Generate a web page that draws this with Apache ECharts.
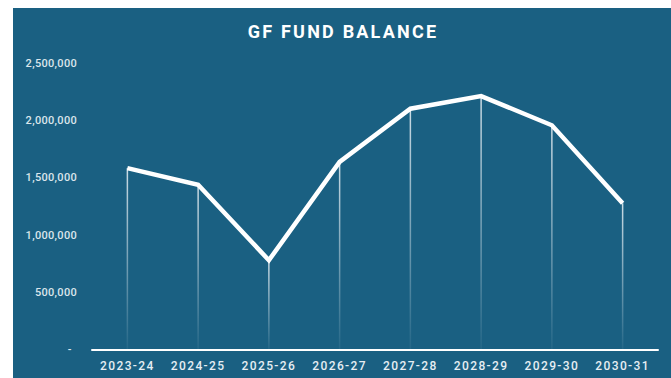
<!DOCTYPE html>
<html>
<head>
<meta charset="utf-8">
<script src="https://cdn.jsdelivr.net/npm/echarts@6/dist/echarts.min.js"></script>
<style>
  html, body { margin: 0; padding: 0; background: #ffffff; }
  #chart { width: 671px; height: 378px; }
</style>
</head>
<body>
<div id="chart"></div>
<script>
// Fiscal years and General Fund balance at year end
const years = ['2023-24', '2024-25', '2025-26', '2026-27', '2027-28', '2028-29', '2029-30', '2030-31'];
const balance = [1585000, 1440000, 780000, 1640000, 2105000, 2215000, 1960000, 1278000];
const yTicks = [0, 500000, 1000000, 1500000, 2000000, 2500000];

const panelColor = '#1a6082';

const chart = echarts.init(document.getElementById('chart'), null, { renderer: 'svg' });

chart.setOption({
  animation: false,
  backgroundColor: '#ffffff',
  graphic: [{
    type: 'rect',
    z: -10,
    silent: true,
    shape: { x: 13, y: 8, width: 658, height: 370 },
    style: { fill: panelColor }
  }],
  title: {
    text: 'GF FUND BALANCE',
    left: 338,
    top: 17,
    textAlign: 'center',
    textStyle: {
      color: '#ffffff',
      fontFamily: 'Roboto',
      fontWeight: 'bold',
      fontSize: 18
    }
  },
  grid: { left: 92, right: 13, top: 63.5, bottom: 28.5 },
  xAxis: {
    type: 'category',
    data: years,
    boundaryGap: true,
    axisLine: { lineStyle: { color: '#ffffff', width: 2 } },
    axisTick: { show: false },
    axisLabel: {
      color: '#e6eef3',
      fontFamily: 'Roboto',
      fontWeight: 500,
      fontSize: 12,
      margin: 10
    },
    splitLine: { show: false }
  },
  yAxis: {
    type: 'value',
    min: yTicks[0],
    max: yTicks[yTicks.length - 1],
    interval: yTicks[1] - yTicks[0],
    axisLine: { show: false },
    axisTick: { show: false },
    splitLine: { show: false },
    axisLabel: {
      color: '#dbe6ec',
      fontFamily: 'Roboto',
      fontWeight: 500,
      fontSize: 11,
      margin: 15,
      formatter: function (v) {
        return v === 0 ? '-  ' : v.toLocaleString('en-US');
      }
    }
  },
  series: [
    {
      // thin drop lines from each point to the baseline
      type: 'bar',
      data: balance,
      barWidth: 1.5,
      silent: true,
      z: 1,
      itemStyle: {
        color: new echarts.graphic.LinearGradient(0, 0, 0, 1, [
          { offset: 0, color: 'rgba(235,242,246,0.85)' },
          { offset: 1, color: 'rgba(235,242,246,0.05)' }
        ])
      }
    },
    {
      type: 'line',
      data: balance,
      symbol: 'none',
      z: 3,
      lineStyle: { color: '#ffffff', width: 4.5, join: 'miter' }
    }
  ]
});

// letter spacing on the title, year labels and amounts
function spaceText() {
  document.querySelectorAll('#chart text').forEach(function (t) {
    const s = t.textContent;
    if (s === 'GF FUND BALANCE') t.style.letterSpacing = '2.2px';
    else if (/^\d{4}-\d{2}$/.test(s)) t.style.letterSpacing = '1.4px';
    else if (/^[\d,]+$/.test(s)) t.style.letterSpacing = '0.3px';
  });
}
chart.on('finished', spaceText);
setTimeout(spaceText, 0);
</script>
</body>
</html>
